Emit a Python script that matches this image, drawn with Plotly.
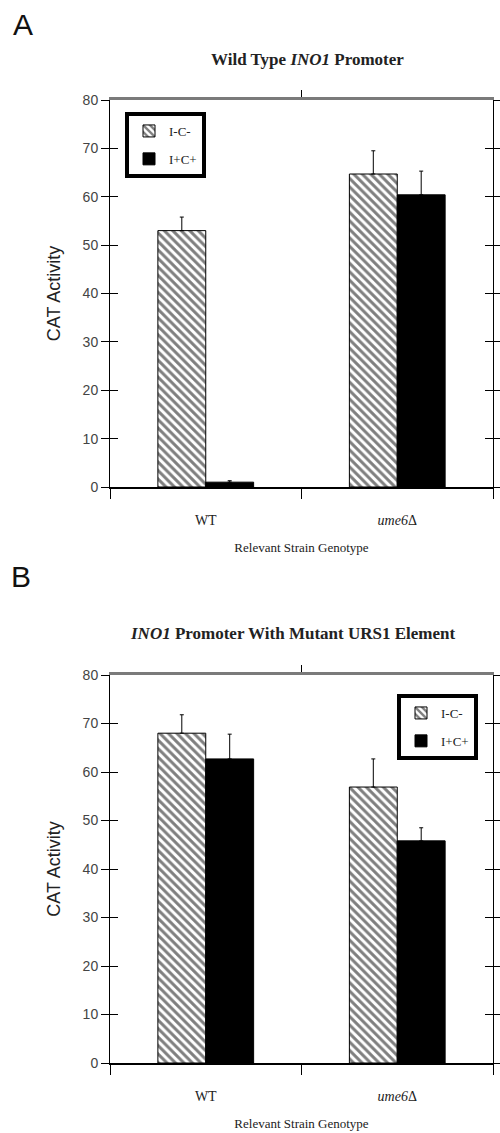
import plotly.graph_objects as go

categories = ["WT", "<i>ume6</i>Δ"]
series_names = ["I-C-", "I+C+"]

a_ic = [53.0, 64.7]
a_ic_err = [2.8, 4.8]
a_ipc = [1.0, 60.4]
a_ipc_err = [0.3, 4.9]

b_ic = [68.0, 56.9]
b_ic_err = [3.8, 5.8]
b_ipc = [62.7, 45.8]
b_ipc_err = [5.1, 2.7]

y_ticks = [0, 10, 20, 30, 40, 50, 60, 70, 80]

titles = ["Wild Type <i>INO1</i> Promoter", "<i>INO1</i> Promoter With Mutant URS1 Element"]

SERIF = "Liberation Serif"
SANS = "Liberation Sans"

# page body margin is removed in post_script, so page px == figure px
W = 500
H = 1133

def px(p):
    return p / W

def py(p):
    return 1 - p / H

fig = go.Figure()

def add_bars(vals, errs, name, hatched, xa, ya, legend, group):
    if hatched:
        marker = dict(color="white", line=dict(color="black", width=1),
                      pattern=dict(shape="\\", fgcolor="black", bgcolor="white",
                                   size=6, solidity=0.5))
    else:
        marker = dict(color="black", line=dict(color="black", width=1))
    fig.add_trace(go.Bar(
        x=categories, y=vals, name=name, marker=marker,
        error_y=dict(type="data", array=errs, arrayminus=[0] * len(errs),
                     symmetric=False, color="black", thickness=1, width=2),
        xaxis=xa, yaxis=ya, legend=legend, legendgroup=group,
    ))

add_bars(a_ic, a_ic_err, series_names[0], True, "x", "y", "legend", "a1")
add_bars(a_ipc, a_ipc_err, series_names[1], False, "x", "y", "legend", "a2")
add_bars(b_ic, b_ic_err, series_names[0], True, "x2", "y2", "legend2", "b1")
add_bars(b_ipc, b_ipc_err, series_names[1], False, "x2", "y2", "legend2", "b2")

# empty helper traces so the overlay (frame) axes get drawn
for xa, ya in [("x", "y3"), ("x3", "y"), ("x", "y5"),
               ("x2", "y4"), ("x4", "y2"), ("x2", "y6")]:
    fig.add_trace(go.Scatter(x=[], y=[], xaxis=xa, yaxis=ya, showlegend=False,
                             hoverinfo="skip", mode="markers"))

XDOM = [px(110), px(493)]

def ydom(top, bottom):
    return [py(bottom), py(top)]

DA = ydom(100, 487)
DB = ydom(675, 1063)

def xaxis_cfg(anchor):
    return dict(
        domain=XDOM, anchor=anchor, type="category", range=[-0.5, 1.5],
        tickson="boundaries", ticks="outside", ticklen=10, tickcolor="black",
        showline=True, linecolor="black", linewidth=1.5,
        tickfont=dict(family=SERIF, size=14, color="#222"),
        ticklabelstandoff=19,
        title=dict(text="Relevant Strain Genotype",
                   font=dict(family=SERIF, size=13, color="#222"), standoff=16),
        showgrid=False, zeroline=False, fixedrange=True, automargin=False,
    )

def yaxis_cfg(anchor, dom):
    return dict(
        domain=dom, anchor=anchor, range=[0, 80], tickvals=y_ticks,
        ticks="outside", ticklen=8, tickcolor="black", tickwidth=1,
        showline=True, linecolor="black", linewidth=1,
        tickfont=dict(family=SANS, size=14, color="#444"),
        title=dict(text="CAT Activity", font=dict(family=SANS, size=18, color="#222"),
                   standoff=17),
        showgrid=False, zeroline=False, fixedrange=True, automargin=False,
    )

def yaxis_inside(overlay, anchor, dom):
    return dict(
        overlaying=overlay, anchor=anchor, domain=dom, range=[0, 80], tickvals=y_ticks,
        ticks="inside", ticklen=8, tickcolor="black", tickwidth=1,
        showline=True, linecolor="black", linewidth=1, mirror="allticks",
        showticklabels=False, showgrid=False, zeroline=False, fixedrange=True,
        automargin=False,
    )

def yaxis_right(overlay, anchor, dom):
    return dict(
        overlaying=overlay, anchor=anchor, side="right", domain=dom, range=[0, 80],
        tickvals=y_ticks, ticks="outside", ticklen=8, tickcolor="black", tickwidth=1,
        showline=True, linecolor="black", linewidth=1.2,
        showticklabels=False, showgrid=False, zeroline=False, fixedrange=True,
        automargin=False,
    )

def xaxis_top(overlay, anchor):
    return dict(
        overlaying=overlay, anchor=anchor, side="top", domain=XDOM, type="linear",
        range=[-0.5, 1.5], tickvals=[0.5], ticks="outside", ticklen=7,
        tickcolor="black", showticklabels=False,
        showline=True, linecolor="#7a7a7a", linewidth=3,
        showgrid=False, zeroline=False, fixedrange=True, automargin=False,
    )

legend_common = dict(yanchor="top", bordercolor="black", borderwidth=4,
                     bgcolor="white", font=dict(family=SERIF, size=13, color="#222"),
                     tracegroupgap=8, itemwidth=30)

fig.update_layout(
    width=W, height=H,
    margin=dict(l=0, r=0, t=0, b=0, autoexpand=False),
    paper_bgcolor="white", plot_bgcolor="white",
    barmode="group", bargap=0.5, bargroupgap=0,
    xaxis=xaxis_cfg("y"),
    yaxis=yaxis_cfg("x", DA),
    xaxis2=xaxis_cfg("y2"),
    yaxis2=yaxis_cfg("x2", DB),
    yaxis3=yaxis_inside("y", "x", DA),
    yaxis4=yaxis_inside("y2", "x2", DB),
    yaxis5=yaxis_right("y", "x", DA),
    yaxis6=yaxis_right("y2", "x2", DB),
    xaxis3=xaxis_top("x", "y"),
    xaxis4=xaxis_top("x2", "y2"),
    legend=dict(x=px(125), y=py(112), xanchor="left", **legend_common),
    legend2=dict(x=px(478), y=py(694), xanchor="right", **legend_common),
    showlegend=True,
    annotations=[
        dict(text="A", x=px(11), y=py(25), xref="paper", yref="paper",
             xanchor="left", yanchor="middle", showarrow=False,
             font=dict(family=SANS, size=30, color="#111")),
        dict(text="B", x=px(9), y=py(576), xref="paper", yref="paper",
             xanchor="left", yanchor="middle", showarrow=False,
             font=dict(family=SANS, size=30, color="#111")),
        dict(text="<b>" + titles[0] + "</b>", x=px(307), y=py(59),
             xref="paper", yref="paper", xanchor="center", yanchor="middle",
             showarrow=False, font=dict(family=SERIF, size=17, color="#222")),
        dict(text="<b>" + titles[1] + "</b>", x=px(292), y=py(633),
             xref="paper", yref="paper", xanchor="center", yanchor="middle",
             showarrow=False, font=dict(family=SERIF, size=17, color="#222")),
    ],
)

fig.write_html(
    "out.html",
    config={"displayModeBar": False},
    post_script="document.body.style.margin='0';document.body.style.overflow='hidden';"
                "document.documentElement.style.overflow='hidden';",
)
